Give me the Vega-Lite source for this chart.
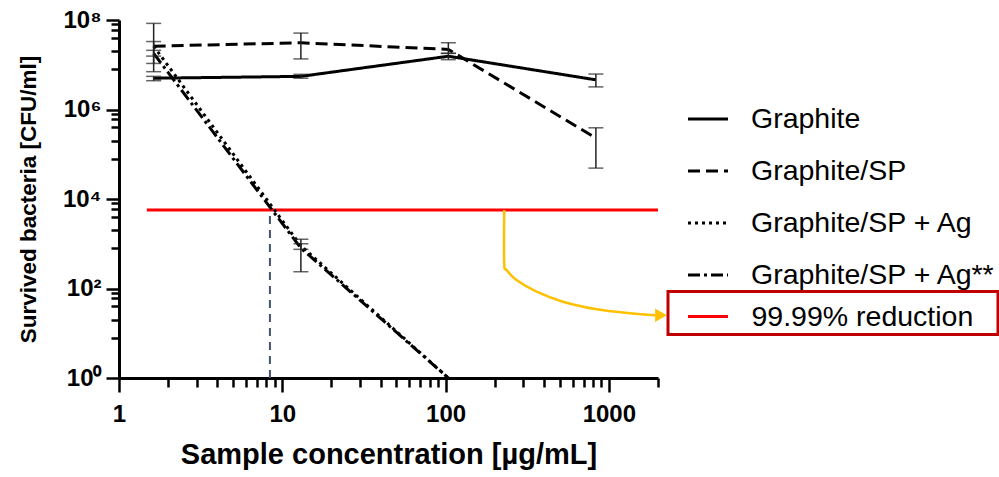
{
  "$schema": "https://vega.github.io/schema/vega-lite/v6.json",
  "width": 539,
  "height": 358,
  "autosize": {"type": "none"},
  "padding": {"left": 119, "top": 20, "right": 341, "bottom": 99},
  "config": {
    "view": {"stroke": null},
    "font": "Liberation Sans",
    "axis": {"grid": false, "domainColor": "black", "domainWidth": 3, "tickColor": "black", "tickWidth": 2.5,
      "labelFont": "Liberation Sans", "labelFontWeight": "bold", "labelFontSize": 24, "labelColor": "black",
      "titleFont": "Liberation Sans", "titleFontWeight": "bold", "titleColor": "black", "labelOverlap": false, "labelBound": false, "labelFlush": false}
  },
  "datasets": {
    "series": [
      {"s": "Graphite", "x": 1.63, "y": 5.0e6, "lo": 4.4e6, "hi": 5.5e6},
      {"s": "Graphite", "x": 13, "y": 5.5e6, "lo": 5.0e6, "hi": 6.1e6},
      {"s": "Graphite", "x": 104, "y": 1.55e7, "lo": 1.3e7, "hi": 1.8e7},
      {"s": "Graphite", "x": 833, "y": 4.6e6, "lo": 3.2e6, "hi": 6.2e6},
      {"s": "Graphite/SP", "x": 1.63, "y": 2.6e7, "lo": 1.56e7, "hi": 3.3e7},
      {"s": "Graphite/SP", "x": 13, "y": 3.1e7, "lo": 1.35e7, "hi": 5.1e7},
      {"s": "Graphite/SP", "x": 104, "y": 2.2e7, "lo": 1.8e7, "hi": 3.1e7},
      {"s": "Graphite/SP", "x": 833, "y": 2.3e5, "lo": 4.9e4, "hi": 3.9e5},
      {"s": "Graphite/SP + Ag", "x": 1.63, "y": 2.6e7, "lo": 1.07e7, "hi": 8.4e7},
      {"s": "Graphite/SP + Ag", "x": 13, "y": 900, "lo": 750, "hi": 1260},
      {"s": "Graphite/SP + Ag", "x": 104, "y": 1, "lo": null, "hi": null},
      {"s": "Graphite/SP + Ag**", "x": 1.63, "y": 1.8e7, "lo": 7.0e6, "hi": 2.1e7},
      {"s": "Graphite/SP + Ag**", "x": 13, "y": 800, "lo": 237, "hi": 1000},
      {"s": "Graphite/SP + Ag**", "x": 104, "y": 1, "lo": null, "hi": null}
    ],
    "reduction": [
      {"x": 1.48, "y": 5700, "ref": "99.99% reduction"},
      {"x": 2000, "y": 5700, "ref": "99.99% reduction"}
    ],
    "cutoff": [{"x": 8.4, "y": 1, "y2": 5700}],
    "arrow": [
      {"i": 0, "x": 228.7, "y": 5700},
      {"i": 1, "x": 228.7, "y": 371},
      {"i": 2, "x": 236.7, "y": 259},
      {"i": 3, "x": 272, "y": 155},
      {"i": 4, "x": 361, "y": 84.8},
      {"i": 5, "x": 523, "y": 50.7},
      {"i": 6, "x": 842, "y": 34.3},
      {"i": 7, "x": 1346, "y": 27.9},
      {"i": 8, "x": 1916, "y": 25.2}
    ],
    "arrowhead": [{"x": 2084, "y": 25.2}]
  },
  "encoding": {
    "x": {"field": "x", "type": "quantitative",
      "scale": {"type": "log", "domain": [1, 2000], "nice": false},
      "axis": {"title": "Sample concentration [µg/mL]", "titleFontSize": 29, "titlePadding": 14,
        "values": [1,2,3,4,5,6,7,8,9,10,20,30,40,50,60,70,80,90,100,200,300,400,500,600,700,800,900,1000,2000],
        "labelExpr": "indexof([1,10,100,1000], datum.value) >= 0 ? format(datum.value, 'd') : ''",
        "tickSize": {"condition": {"test": "indexof([1,10,100,1000], datum.value) >= 0", "value": 14}, "value": 9},
        "labelPadding": 10}
    },
    "y": {"field": "y", "type": "quantitative",
      "scale": {"type": "log", "domain": [1, 100000000], "nice": false},
      "axis": {"title": "Survived bacteria [CFU/ml]", "titleFontSize": 22.5, "titlePadding": 22,
        "values": [1,8,20,40,60,80,100,800,2000,4000,6000,8000,10000,80000,200000,400000,600000,800000,1000000,8000000,20000000,40000000,60000000,80000000,100000000],
        "labelExpr": "datum.value == 1 ? '10⁰' : datum.value == 100 ? '10²' : datum.value == 10000 ? '10⁴' : datum.value == 1000000 ? '10⁶' : datum.value == 100000000 ? '10⁸' : ''",
        "tickSize": {"condition": {"test": "indexof([1,100,10000,1000000,100000000], datum.value) >= 0", "value": 13}, "value": 8},
        "labelPadding": 5}
    }
  },
  "layer": [
    {
      "data": {"name": "reduction"},
      "mark": {"type": "line", "strokeWidth": 3},
      "encoding": {
        "color": {"field": "ref", "type": "nominal",
          "scale": {"domain": ["99.99% reduction"], "range": ["#ff0000"]},
          "legend": {"orient": "none", "legendX": 549, "legendY": 271.5, "title": null,
            "symbolType": "stroke", "symbolSize": 1600, "symbolStrokeWidth": 3, "symbolOffset": 15,
            "labelOffset": 22, "padding": 3.5, "strokeColor": "#c00000",
            "labelFont": "Liberation Sans", "labelFontSize": 28.5, "labelColor": "black", "labelLimit": 500,
            "labelExpr": "datum.label + '\u2800'",
            "encode": {"legend": {"update": {"strokeWidth": {"value": 3}}}}}
        }
      }
    },
    {
      "data": {"name": "cutoff"},
      "mark": {"type": "rule", "color": "#44546a", "strokeWidth": 2, "strokeDash": [8, 6]},
      "encoding": {"y2": {"field": "y2"}}
    },
    {
      "data": {"name": "series"},
      "mark": {"type": "line", "strokeWidth": 3, "color": "black"},
      "encoding": {
        "strokeDash": {"field": "s", "type": "nominal",
          "scale": {"domain": ["Graphite", "Graphite/SP", "Graphite/SP + Ag", "Graphite/SP + Ag**"],
            "range": [[1, 0], [12, 6], [3, 4], [12, 4, 3, 4]]},
          "legend": {"orient": "none", "legendX": 567.5, "legendY": 77.5, "title": null,
            "symbolType": "stroke", "symbolSize": 1600, "symbolStrokeWidth": 3, "symbolStrokeColor": "black",
            "labelOffset": 21.5, "rowPadding": 16, "padding": 0,
            "labelFont": "Liberation Sans", "labelFontSize": 28.5, "labelColor": "black", "labelLimit": 500}
        }
      }
    },
    {
      "data": {"name": "series"},
      "transform": [{"filter": "isValid(datum.lo)"}],
      "mark": {"type": "rule", "color": "#222222", "strokeWidth": 1.5},
      "encoding": {"y": {"field": "lo"}, "y2": {"field": "hi"}}
    },
    {
      "data": {"name": "series"},
      "transform": [{"filter": "isValid(datum.lo)"}],
      "mark": {"type": "tick", "orient": "horizontal", "color": "#222222", "thickness": 1.5, "size": 15},
      "encoding": {"y": {"field": "lo"}}
    },
    {
      "data": {"name": "series"},
      "transform": [{"filter": "isValid(datum.hi)"}],
      "mark": {"type": "tick", "orient": "horizontal", "color": "#222222", "thickness": 1.5, "size": 15},
      "encoding": {"y": {"field": "hi"}}
    },
    {
      "data": {"name": "arrow"},
      "mark": {"type": "line", "color": "#ffc000", "strokeWidth": 2.5, "interpolate": "cardinal", "clip": false},
      "encoding": {"order": {"field": "i", "type": "quantitative"}}
    },
    {
      "data": {"name": "arrowhead"},
      "mark": {"type": "point", "shape": "triangle-right", "filled": true, "color": "#ffc000", "size": 180, "opacity": 1, "clip": false},
      "encoding": {}
    }
  ]
}
